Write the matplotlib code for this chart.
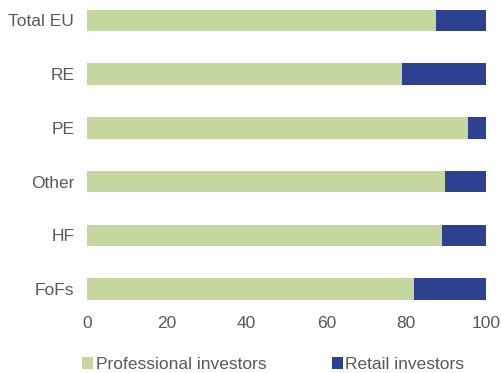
import numpy as np
import matplotlib.pyplot as plt

plt.rcParams['font.family'] = ['Liberation Sans', 'DejaVu Sans']

categories = ['Total EU', 'RE', 'PE', 'Other', 'HF', 'FoFs']
professional = [87.4, 78.9, 95.4, 89.7, 89.0, 82.0]
retail = [100 - p for p in professional]

green = '#c5d79f'
blue = '#2e4190'
grey = '#595959'

fig = plt.figure(figsize=(5.02, 3.73), dpi=100)
ax = fig.add_axes([0.173, 0.182, 0.795, 0.818])

y = np.arange(len(categories))
ax.barh(y, professional, height=0.4, color=green, label='Professional investors')
ax.barh(y, retail, left=professional, height=0.4, color=blue, label='Retail investors')

ax.set_xlim(0, 100)
ax.set_ylim(5.3, -0.38)
ax.set_yticks(y)
ax.set_yticklabels(categories)
ax.set_xticks(range(0, 101, 20))
ax.tick_params(length=0, labelsize=12.5, colors=grey)
ax.tick_params(axis='x', pad=8)
ax.tick_params(axis='y', pad=9)
for s in ax.spines.values():
    s.set_visible(False)

fig.legend(loc='lower left', bbox_to_anchor=(0.132, -0.04), ncol=2, frameon=False,
           fontsize=12.5, labelcolor=grey, handlelength=0.65, handleheight=0.65,
           handletextpad=0.15, columnspacing=3.75)

fig.savefig('out.png', dpi=100)
